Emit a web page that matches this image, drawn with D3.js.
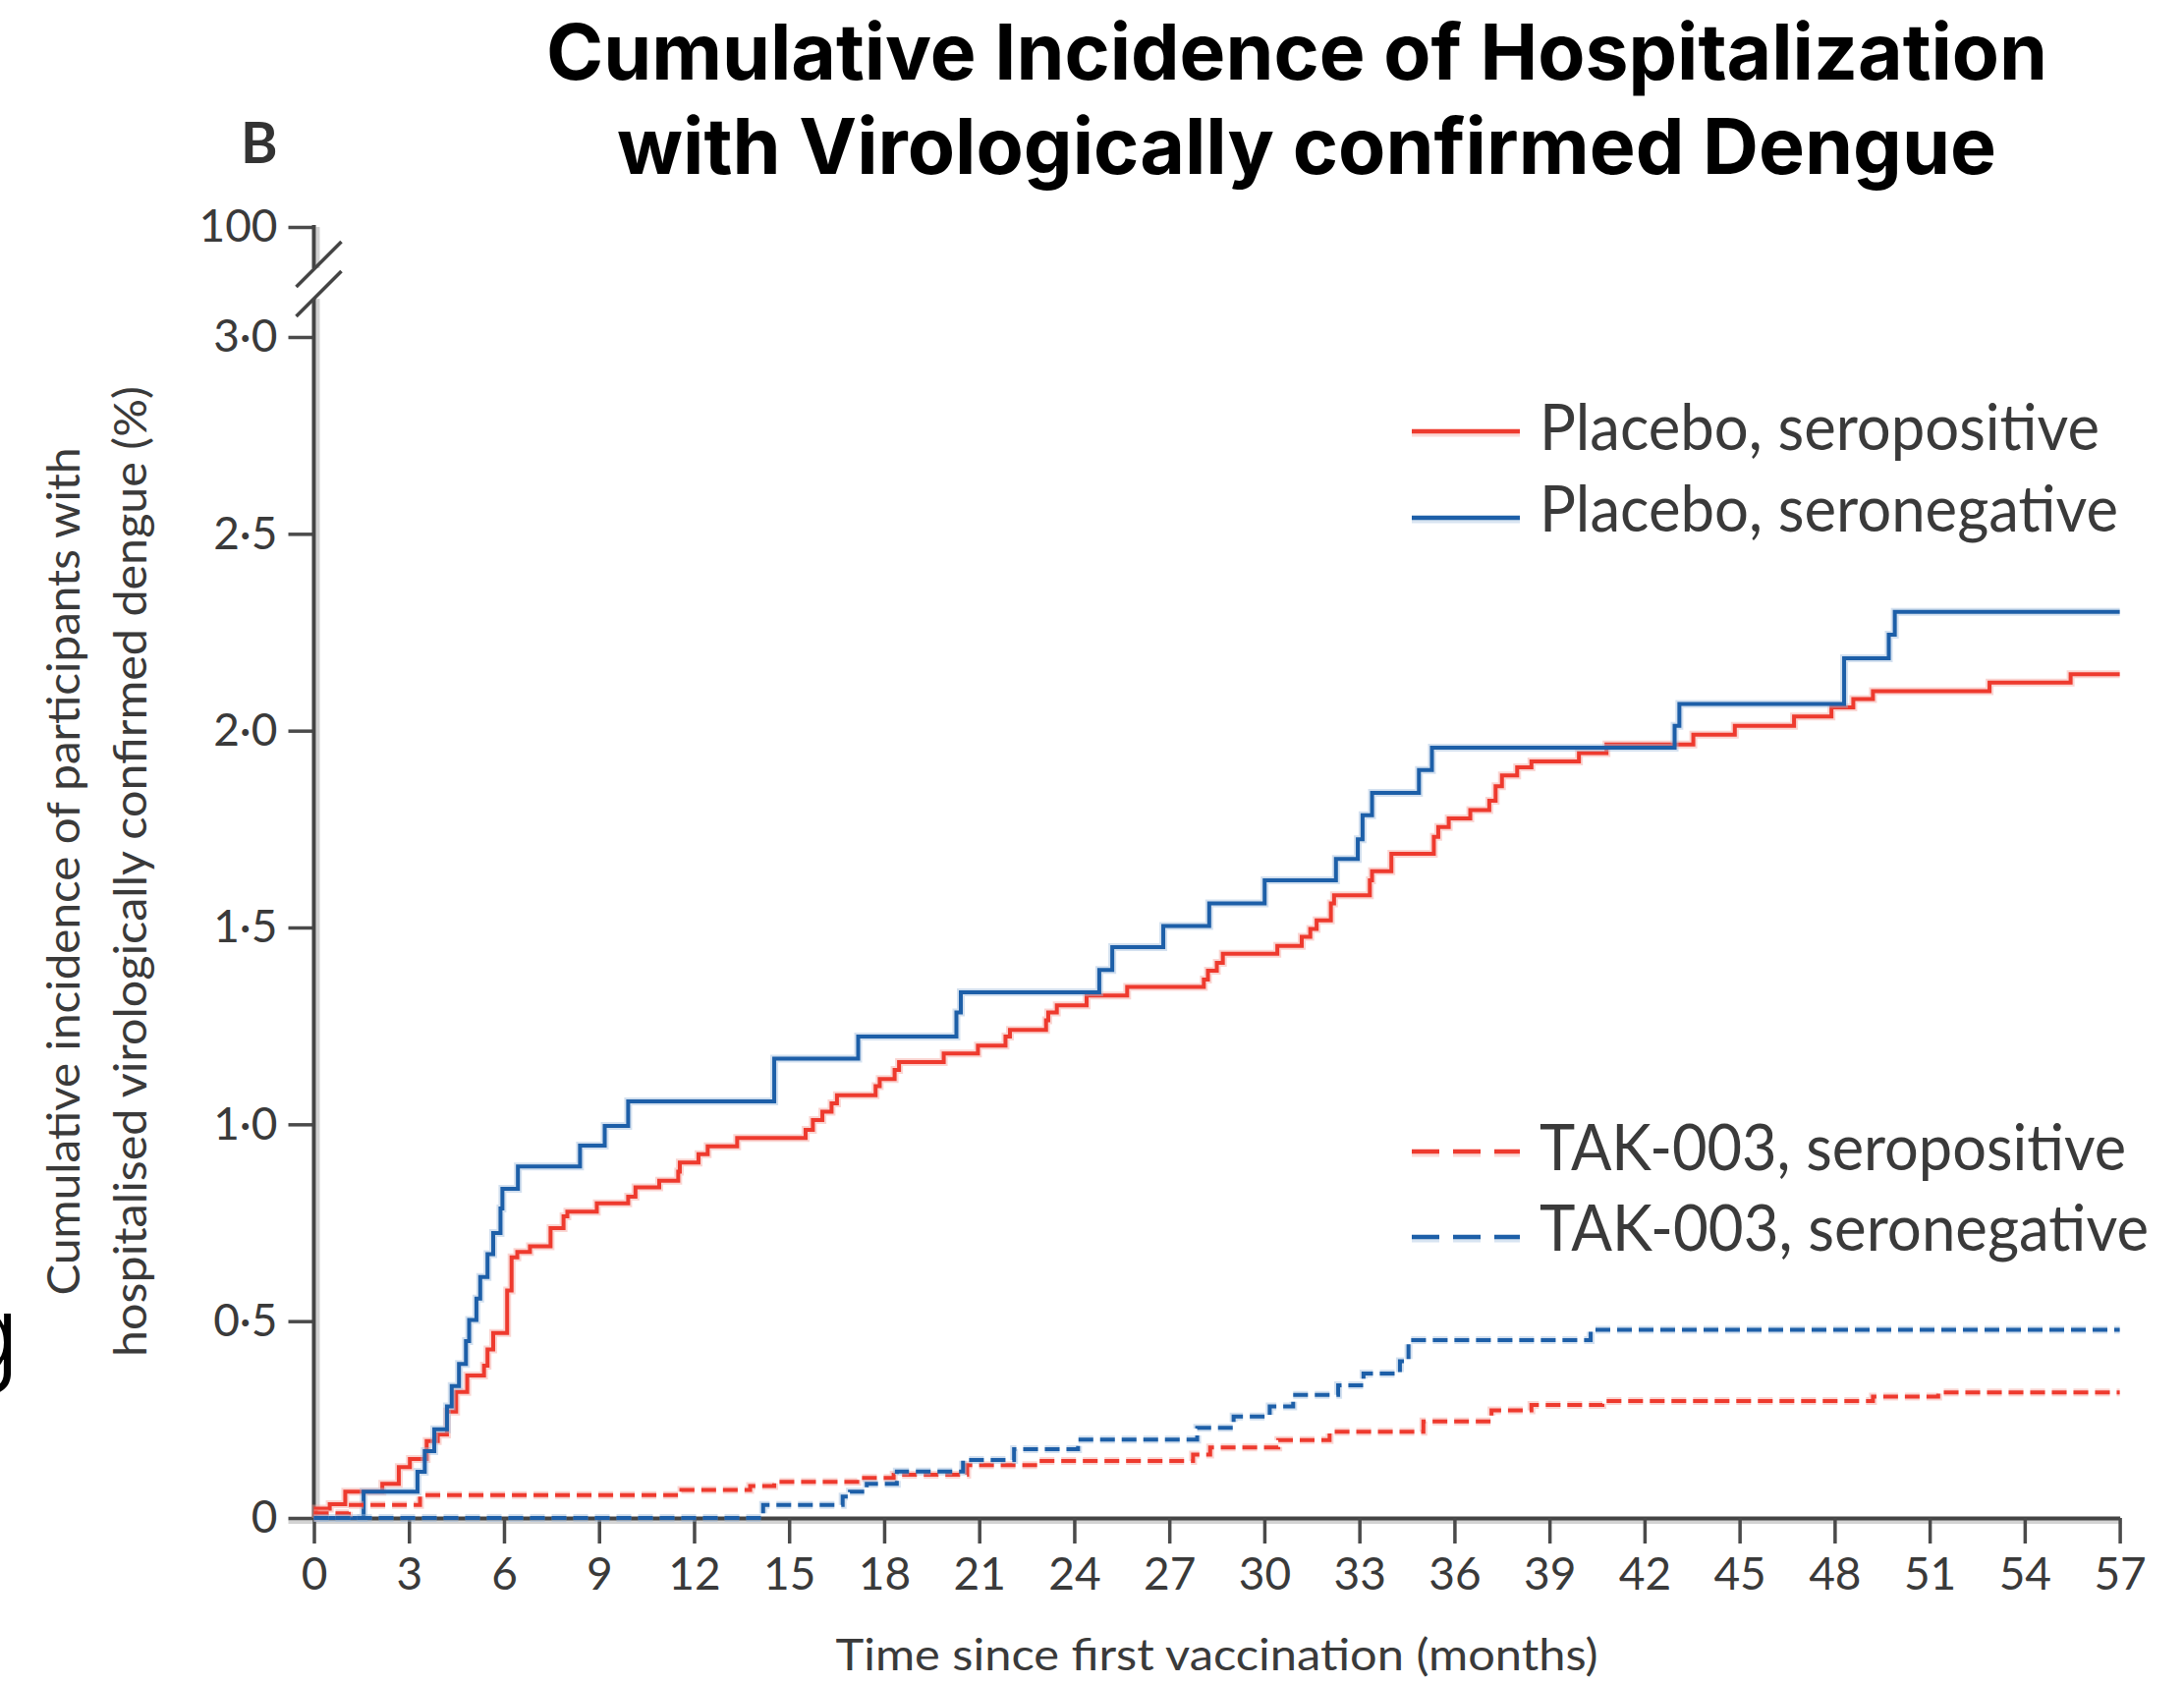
<!DOCTYPE html>
<html>
<head>
<meta charset="utf-8">
<script src="https://cdn.jsdelivr.net/npm/d3@7"></script>
<style>
  body { margin: 0; background: #fff; }
  svg { display: block; }
</style>
</head>
<body>
<svg id="chart" width="2223" height="1714"></svg>
<script>
// ---- data: Kaplan–Meier style cumulative incidence (%), step events by month ----
const monthTicks = [0, 3, 6, 9, 12, 15, 18, 21, 24, 27, 30, 33, 36, 39, 42, 45, 48, 51, 54, 57];
const pctTicks = [0, 0.5, 1.0, 1.5, 2.0, 2.5, 3.0];
const pctTickLabels = ["0", "0·5", "1·0", "1·5", "2·0", "2·5", "3·0"];
const brokenAxisTicks = [100];
const brokenAxisLabels = ["100"];

const placeboSeropositiveMonths = [0, 0.06, 0.5, 0.99, 2.16, 2.68, 3.03, 3.56, 3.91, 4.2, 4.49, 4.84, 5.37, 5.48, 5.66, 6.1, 6.24, 6.42, 6.82, 7.47, 7.88, 8.0, 8.93, 9.92, 10.15, 10.9, 11.5, 11.55, 12.14, 12.43, 13.36, 15.52, 15.75, 16.05, 16.34, 16.51, 17.73, 17.86, 18.33, 18.47, 19.88, 20.96, 21.83, 21.97, 23.11, 23.18, 23.45, 24.39, 25.67, 28.09, 28.22, 28.5, 28.69, 30.41, 31.18, 31.45, 31.65, 32.1, 32.2, 33.33, 33.4, 34.01, 35.35, 35.49, 35.82, 36.5, 37.1, 37.3, 37.5, 37.98, 38.43, 39.93, 40.8, 43.54, 44.85, 46.72, 47.9, 48.59, 49.21, 52.89, 55.45, 57];
const placeboSeropositivePct = [0, 0.024, 0.035, 0.067, 0.087, 0.129, 0.15, 0.195, 0.212, 0.27, 0.32, 0.362, 0.387, 0.428, 0.47, 0.578, 0.662, 0.676, 0.69, 0.736, 0.766, 0.778, 0.799, 0.816, 0.84, 0.857, 0.88, 0.903, 0.924, 0.944, 0.965, 0.986, 1.011, 1.032, 1.053, 1.074, 1.097, 1.115, 1.138, 1.158, 1.18, 1.2, 1.223, 1.24, 1.264, 1.284, 1.302, 1.327, 1.349, 1.368, 1.39, 1.41, 1.433, 1.453, 1.476, 1.496, 1.518, 1.561, 1.582, 1.62, 1.643, 1.687, 1.73, 1.755, 1.777, 1.798, 1.822, 1.859, 1.886, 1.907, 1.922, 1.943, 1.965, 1.99, 2.012, 2.036, 2.059, 2.08, 2.1, 2.122, 2.143, 2.143];

const placeboSeronegativeMonths = [0, 1.57, 3.27, 3.5, 3.8, 4.2, 4.35, 4.58, 4.8, 4.9, 5.13, 5.25, 5.48, 5.66, 5.89, 5.95, 6.44, 8.4, 9.18, 9.92, 14.53, 17.18, 20.28, 20.42, 24.79, 25.2, 26.81, 28.26, 30.01, 32.26, 32.95, 33.1, 33.4, 34.88, 35.29, 42.95, 43.1, 48.3, 49.71, 49.9, 57];
const placeboSeronegativePct = [0, 0.067, 0.117, 0.17, 0.225, 0.283, 0.335, 0.391, 0.449, 0.503, 0.557, 0.612, 0.67, 0.724, 0.786, 0.836, 0.893, 0.946, 0.996, 1.058, 1.167, 1.223, 1.284, 1.335, 1.392, 1.45, 1.504, 1.561, 1.62, 1.674, 1.724, 1.785, 1.842, 1.9, 1.957, 2.012, 2.068, 2.184, 2.244, 2.302, 2.302];

const takSeropositiveMonths = [0, 1.1, 3.35, 11.6, 13.77, 14.53, 17.15, 18.3, 20.62, 22.9, 27.75, 28.29, 30.44, 32.06, 35.02, 37.17, 38.43, 40.67, 49.21, 51.27, 57];
const takSeropositivePct = [0.012, 0.033, 0.058, 0.071, 0.081, 0.092, 0.102, 0.11, 0.134, 0.145, 0.161, 0.179, 0.198, 0.219, 0.245, 0.273, 0.287, 0.297, 0.308, 0.319, 0.319];

const takSeronegativeMonths = [0, 14.18, 16.69, 16.92, 17.45, 18.4, 20.49, 22.1, 24.12, 27.88, 29.03, 30.17, 30.91, 32.33, 33.13, 34.28, 34.55, 40.3, 57];
const takSeronegativePct = [0, 0.033, 0.054, 0.067, 0.087, 0.118, 0.1475, 0.1747, 0.199, 0.229, 0.258, 0.283, 0.3125, 0.337, 0.367, 0.398, 0.452, 0.478, 0.478];

const seriesNames = ["Placebo, seropositive", "Placebo, seronegative", "TAK-003, seropositive", "TAK-003, seronegative"];

// ---- styling ----
const RED = "#ee3a2e", RED_SOFT = "#f4a29b";
const BLUE = "#1d5fa8", BLUE_SOFT = "#9dbbdc";
const INK = "#3a3a3a";
const LABEL_FONT = "Lato, 'Liberation Sans', sans-serif";

const series = [
  { name: seriesNames[0], months: placeboSeropositiveMonths, pct: placeboSeropositivePct, color: RED, soft: RED_SOFT, dashed: false },
  { name: seriesNames[1], months: placeboSeronegativeMonths, pct: placeboSeronegativePct, color: BLUE, soft: BLUE_SOFT, dashed: false },
  { name: seriesNames[2], months: takSeropositiveMonths, pct: takSeropositivePct, color: RED, soft: RED_SOFT, dashed: true },
  { name: seriesNames[3], months: takSeronegativeMonths, pct: takSeronegativePct, color: BLUE, soft: BLUE_SOFT, dashed: true }
];

const svg = d3.select("#chart");
svg.append("rect").attr("width", 2223).attr("height", 1714).attr("fill", "#fff");

const x = d3.scaleLinear().domain([0, 57]).range([319.5, 2157.6]);
const y = d3.scaleLinear().domain([0, 3]).range([1545, 343]);
// short segment above the axis break carrying the 100% tick
const yTop = d3.scaleLinear().domain([99, 100]).range([262, 231]);

// ---- title ----
const title = svg.append("g")
  .attr("font-family", "Inter, 'Open Sans', sans-serif")
  .attr("font-weight", 700)
  .attr("font-size", 79)
  .attr("fill", "#000")
  .attr("text-anchor", "middle");
title.append("text").attr("x", 1320).attr("y", 81)
  .attr("textLength", 1528).attr("lengthAdjust", "spacingAndGlyphs")
  .text("Cumulative Incidence of Hospitalization");
title.append("text").attr("x", 1330).attr("y", 177)
  .attr("textLength", 1404).attr("lengthAdjust", "spacingAndGlyphs")
  .text("with Virologically confirmed Dengue");

// panel letter
svg.append("text").attr("x", 245).attr("y", 166)
  .attr("font-family", LABEL_FONT).attr("font-weight", 700).attr("font-size", 57)
  .attr("fill", "#333").text("B");

// stray glyph at the left edge of the panel
svg.append("text").attr("x", 20).attr("y", 1396)
  .attr("text-anchor", "end")
  .attr("font-family", "Inter, sans-serif").attr("font-weight", 300).attr("font-size", 108)
  .attr("fill", "#000").text("g");

// ---- axes ----
const axisShadow = svg.append("g").attr("stroke", "#d2d2d2").attr("stroke-width", 4);
axisShadow.append("line").attr("x1", x(0) - 26).attr("x2", x(57) + 2)
  .attr("y1", y(0) + 4).attr("y2", y(0) + 4);
axisShadow.append("line").attr("x1", x(0) + 4).attr("x2", x(0) + 4)
  .attr("y1", y(3) - 39).attr("y2", y(0));
axisShadow.append("line").attr("x1", x(0) + 4).attr("x2", x(0) + 4)
  .attr("y1", yTop(100)).attr("y2", y(3) - 70);

const gx = svg.append("g")
  .attr("transform", `translate(0,${y(0)})`)
  .call(d3.axisBottom(x).tickValues(monthTicks).tickSize(26).tickSizeOuter(0).tickPadding(14));

const gy = svg.append("g")
  .attr("transform", `translate(${x(0)},0)`)
  .call(d3.axisLeft(y).tickValues(pctTicks).tickFormat((d, i) => pctTickLabels[i])
    .tickSize(26).tickSizeOuter(0).tickPadding(11));
gy.select(".domain").remove();

const gyTop = svg.append("g")
  .attr("transform", `translate(${x(0)},0)`)
  .call(d3.axisLeft(yTop).tickValues(brokenAxisTicks).tickFormat((d, i) => brokenAxisLabels[i])
    .tickSize(26).tickSizeOuter(0).tickPadding(11));
gyTop.select(".domain").remove();

[gx, gy, gyTop].forEach(g => {
  g.select(".domain").attr("stroke", "#444").attr("stroke-width", 4);
  g.selectAll(".tick line").attr("stroke", "#4a4a4a").attr("stroke-width", 3.5);
  g.selectAll(".tick text")
    .attr("font-family", LABEL_FONT).attr("font-size", 46).attr("fill", INK);
});

// vertical axis lines either side of the break
const axisInk = svg.append("g").attr("stroke", "#444").attr("stroke-width", 4).attr("fill", "none");
axisInk.append("line").attr("x1", x(0)).attr("x2", x(0)).attr("y1", y(3) - 39).attr("y2", y(0) + 2);
axisInk.append("line").attr("x1", x(0)).attr("x2", x(0)).attr("y1", yTop(100) - 2).attr("y2", y(3) - 70);
// break marks
axisInk.append("line").attr("stroke-width", 3.5)
  .attr("x1", x(0) - 18).attr("y1", y(3) - 51).attr("x2", x(0) + 28).attr("y2", y(3) - 97);
axisInk.append("line").attr("stroke-width", 3.5)
  .attr("x1", x(0) - 18).attr("y1", y(3) - 21).attr("x2", x(0) + 28).attr("y2", y(3) - 67);

// axis titles
svg.append("text")
  .attr("x", (x(0) + x(57)) / 2).attr("y", 1700)
  .attr("text-anchor", "middle")
  .attr("font-family", LABEL_FONT).attr("font-size", 44).attr("fill", INK)
  .attr("textLength", 776).attr("lengthAdjust", "spacingAndGlyphs")
  .text("Time since first vaccination (months)");

const yTitle = svg.append("g")
  .attr("font-family", LABEL_FONT).attr("font-size", 46).attr("fill", INK)
  .attr("text-anchor", "middle");
yTitle.append("text")
  .attr("transform", "translate(81,887) rotate(-90)")
  .attr("textLength", 863).attr("lengthAdjust", "spacingAndGlyphs")
  .text("Cumulative incidence of participants with");
yTitle.append("text")
  .attr("transform", "translate(149,887) rotate(-90)")
  .attr("textLength", 988).attr("lengthAdjust", "spacingAndGlyphs")
  .text("hospitalised virologically confirmed dengue (%)");

// ---- step curves ----
const stepLine = d3.line()
  .x(d => x(d[0]))
  .y(d => y(d[1]))
  .curve(d3.curveStepAfter);

const curves = svg.append("g").attr("fill", "none");
series.forEach(s => {
  const pts = s.months.map((m, i) => [m, s.pct[i]]);
  curves.append("path")
    .attr("d", stepLine(pts))
    .attr("stroke", s.soft).attr("stroke-width", 8).attr("stroke-opacity", 0.45)
    .attr("stroke-dasharray", s.dashed ? "15 7" : null);
  curves.append("path")
    .attr("d", stepLine(pts))
    .attr("stroke", s.color).attr("stroke-width", 4)
    .attr("stroke-dasharray", s.dashed ? "15 7" : null);
});

// ---- legend ----
const legendRows = [
  { lineY: 439, textY: 458, width: 570 },
  { lineY: 527, textY: 541, width: 589 },
  { lineY: 1172, textY: 1191, width: 597 },
  { lineY: 1259, textY: 1273, width: 620 }
];
const legend = svg.append("g");
series.forEach((s, i) => {
  const r = legendRows[i];
  legend.append("line")
    .attr("x1", 1437).attr("x2", 1547).attr("y1", r.lineY + 2).attr("y2", r.lineY + 2)
    .attr("stroke", s.soft).attr("stroke-width", 7).attr("stroke-opacity", 0.4)
    .attr("stroke-dasharray", s.dashed ? "28 14" : null);
  legend.append("line")
    .attr("x1", 1437).attr("x2", 1547).attr("y1", r.lineY).attr("y2", r.lineY)
    .attr("stroke", s.color).attr("stroke-width", 4.5)
    .attr("stroke-dasharray", s.dashed ? "28 14" : null);
  legend.append("text")
    .attr("x", 1567).attr("y", r.textY)
    .attr("font-family", LABEL_FONT).attr("font-size", 66).attr("fill", INK)
    .attr("textLength", r.width).attr("lengthAdjust", "spacingAndGlyphs")
    .text(s.name);
});
</script>
</body>
</html>
